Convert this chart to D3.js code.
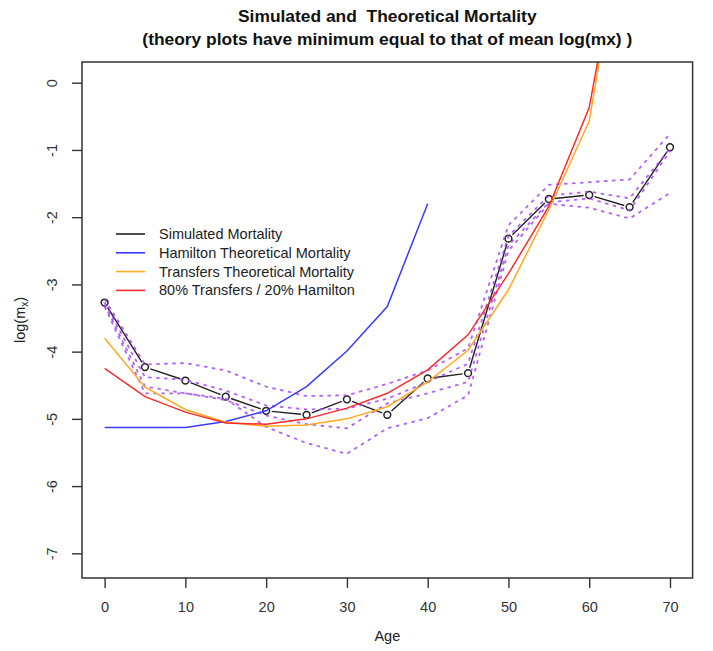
<!DOCTYPE html>
<html>
<head>
<meta charset="utf-8">
<script src="https://cdn.jsdelivr.net/npm/d3@7"></script>
<style>
  html, body { margin: 0; padding: 0; background: #fff; }
  svg { display: block; font-family: "Liberation Sans", Arial, Helvetica, sans-serif; }
  text { white-space: pre; }
</style>
</head>
<body>
<svg id="chart" width="713" height="651"></svg>
<script>
// Ages (years) for simulated and theoretical series
const ages = [0, 5, 10, 15, 20, 25, 30, 35, 40, 45, 50, 55, 60, 65, 70];

// Mean simulated log mortality
const simulated = [-3.27, -4.23, -4.43, -4.67, -4.88, -4.94, -4.71, -4.94, -4.40, -4.32, -2.32, -1.73, -1.67, -1.85, -0.96];

// Spread of the simulation runs (dotted bands)
const bandOuterUpper = [-3.22, -4.19, -4.17, -4.28, -4.52, -4.66, -4.65, -4.48, -4.28, -3.95, -2.12, -1.52, -1.48, -1.44, -0.76];
const bandInnerUpper = [-3.27, -4.38, -4.42, -4.58, -4.80, -4.86, -4.85, -4.70, -4.45, -4.18, -2.28, -1.68, -1.62, -1.72, -0.98];
const bandInnerLower = [-3.30, -4.52, -4.62, -4.72, -4.95, -5.08, -5.14, -4.77, -4.62, -4.45, -2.42, -1.78, -1.72, -1.90, -1.02];
const bandOuterLower = [-3.33, -4.62, -4.62, -4.70, -5.12, -5.36, -5.52, -5.14, -4.99, -4.65, -2.50, -1.80, -1.86, -2.02, -1.64];

// Theoretical curves
const hamiltonAges = [0, 5, 10, 15, 20, 25, 30, 35, 40];
const hamilton = [-5.13, -5.13, -5.13, -5.04, -4.88, -4.52, -3.99, -3.33, -1.80];
const theoryAges = [0, 5, 10, 15, 20, 25, 30, 35, 40, 45, 50, 55, 60, 65];
const transfers = [-3.80, -4.53, -4.86, -5.05, -5.11, -5.09, -5.00, -4.82, -4.45, -3.98, -3.08, -1.89, -0.57, 2.97];
const mixed = [-4.25, -4.67, -4.90, -5.06, -5.08, -5.00, -4.84, -4.62, -4.27, -3.75, -2.84, -1.84, -0.37, 2.88];

// Axis ticks
const xTicks = [0, 10, 20, 30, 40, 50, 60, 70];
const yTicks = [0, -1, -2, -3, -4, -5, -6, -7];

// Legend entries
const legendLabels = ["Simulated Mortality", "Hamilton Theoretical Mortality", "Transfers Theoretical Mortality", "80% Transfers / 20% Hamilton"];
const legendColors = ["#222222", "#3b3bff", "#ffaa22", "#ff2a2a"];

const svg = d3.select("#chart");
const plot = { left: 82, right: 692.6, top: 62, bottom: 578 };

const x = d3.scaleLinear().domain([-2.8, 72.8]).range([plot.left, plot.right]);
const y = d3.scaleLinear().domain([-7.367, 0.308]).range([plot.bottom, plot.top]);

svg.append("defs").append("clipPath").attr("id", "plotClip")
  .append("rect")
  .attr("x", plot.left).attr("y", plot.top)
  .attr("width", plot.right - plot.left).attr("height", plot.bottom - plot.top);

const g = svg.append("g").attr("clip-path", "url(#plotClip)");

// Simulated mortality: segments with gaps around the point symbols
const simPts = ages.map((a, i) => [x(a), y(simulated[i])]);
const r = 3.4, gap = 2.2;
const segs = [];
for (let i = 0; i < simPts.length - 1; i++) {
  const [x0, y0] = simPts[i], [x1, y1] = simPts[i + 1];
  const len = Math.hypot(x1 - x0, y1 - y0);
  const cut = r + gap;
  if (len > 2 * cut) {
    const ux = (x1 - x0) / len, uy = (y1 - y0) / len;
    segs.push([[x0 + ux * cut, y0 + uy * cut], [x1 - ux * cut, y1 - uy * cut]]);
  }
}
g.selectAll("line.sim").data(segs).join("line")
  .attr("class", "sim")
  .attr("x1", d => d[0][0]).attr("y1", d => d[0][1])
  .attr("x2", d => d[1][0]).attr("y2", d => d[1][1])
  .attr("stroke", "#222").attr("stroke-width", 1.4);
g.selectAll("circle.sim").data(simPts).join("circle")
  .attr("class", "sim")
  .attr("cx", d => d[0]).attr("cy", d => d[1]).attr("r", r)
  .attr("fill", "none").attr("stroke", "#222").attr("stroke-width", 1.5);

// Dotted spread lines
const line = d3.line();
[bandOuterUpper, bandInnerUpper, bandInnerLower, bandOuterLower].forEach(vals => {
  g.append("path")
    .attr("d", line(ages.map((a, i) => [x(a), y(vals[i])])))
    .attr("fill", "none").attr("stroke", "#a448f4").attr("stroke-width", 1.8)
    .attr("stroke-dasharray", "3.5,4.5").attr("stroke-opacity", 0.85);
});

// Theoretical curves
function curve(xs, vals, color) {
  g.append("path")
    .attr("d", line(xs.map((a, i) => [x(a), y(vals[i])])))
    .attr("fill", "none").attr("stroke", color).attr("stroke-width", 1.5);
}
curve(hamiltonAges, hamilton, legendColors[1]);
curve(theoryAges, transfers, legendColors[2]);
curve(theoryAges, mixed, legendColors[3]);

// Plot frame
svg.append("rect")
  .attr("x", plot.left).attr("y", plot.top)
  .attr("width", plot.right - plot.left).attr("height", plot.bottom - plot.top)
  .attr("fill", "none").attr("stroke", "#333").attr("stroke-width", 1.5);

// X axis
const xAxis = svg.append("g")
  .attr("transform", `translate(0,${plot.bottom})`)
  .call(d3.axisBottom(x).tickValues(xTicks).tickSize(10).tickPadding(14).tickFormat(d3.format("d")));
xAxis.select(".domain").remove();
xAxis.selectAll(".tick line").attr("stroke", "#333").attr("stroke-width", 1.4);
xAxis.selectAll(".tick text").attr("font-size", 14.5).attr("fill", "#333")
  .attr("font-family", "Liberation Sans, Arial, sans-serif");

// Y axis with labels parallel to the axis
const yAxis = svg.append("g")
  .attr("transform", `translate(${plot.left},0)`)
  .call(d3.axisLeft(y).tickValues(yTicks).tickSize(10).tickFormat(d => d3.format("d")(d).replace("−", "-")));
yAxis.select(".domain").remove();
yAxis.selectAll(".tick line").attr("stroke", "#333").attr("stroke-width", 1.4);
yAxis.selectAll(".tick text")
  .attr("font-size", 14.5).attr("fill", "#333")
  .attr("font-family", "Liberation Sans, Arial, sans-serif")
  .attr("x", 0).attr("dy", null)
  .attr("text-anchor", "middle")
  .attr("transform", "translate(-30,0) rotate(-90)")
  .attr("dominant-baseline", "central");

// Axis titles
svg.append("text")
  .attr("x", (plot.left + plot.right) / 2).attr("y", 641)
  .attr("text-anchor", "middle").attr("font-size", 14.5).attr("fill", "#222")
  .text("Age");
const yl = svg.append("text")
  .attr("transform", `translate(25,${(plot.top + plot.bottom) / 2}) rotate(-90)`)
  .attr("text-anchor", "middle").attr("font-size", 14.5).attr("fill", "#222");
yl.append("tspan").text("log(m");
yl.append("tspan").attr("font-size", 10).attr("dy", 3).text("x");
yl.append("tspan").attr("dy", -3).text(")");

// Title
svg.append("text")
  .attr("x", (plot.left + plot.right) / 2).attr("y", 22)
  .attr("text-anchor", "middle").attr("font-size", 17.4).attr("font-weight", "bold").attr("fill", "#111")
  .text("Simulated and  Theoretical Mortality");
svg.append("text")
  .attr("x", (plot.left + plot.right) / 2).attr("y", 45)
  .attr("text-anchor", "middle").attr("font-size", 17.4).attr("font-weight", "bold").attr("fill", "#111")
  .text("(theory plots have minimum equal to that of mean log(mx) )");

// Legend
const legend = svg.append("g");
legendLabels.forEach((lab, i) => {
  const ly = 234 + i * 18.8;
  legend.append("line")
    .attr("x1", 116).attr("x2", 145).attr("y1", ly).attr("y2", ly)
    .attr("stroke", legendColors[i]).attr("stroke-width", 1.6);
  legend.append("text")
    .attr("x", 159).attr("y", ly).attr("dy", "0.35em")
    .attr("font-size", 14.5).attr("fill", "#222").text(lab);
});
</script>
</body>
</html>
